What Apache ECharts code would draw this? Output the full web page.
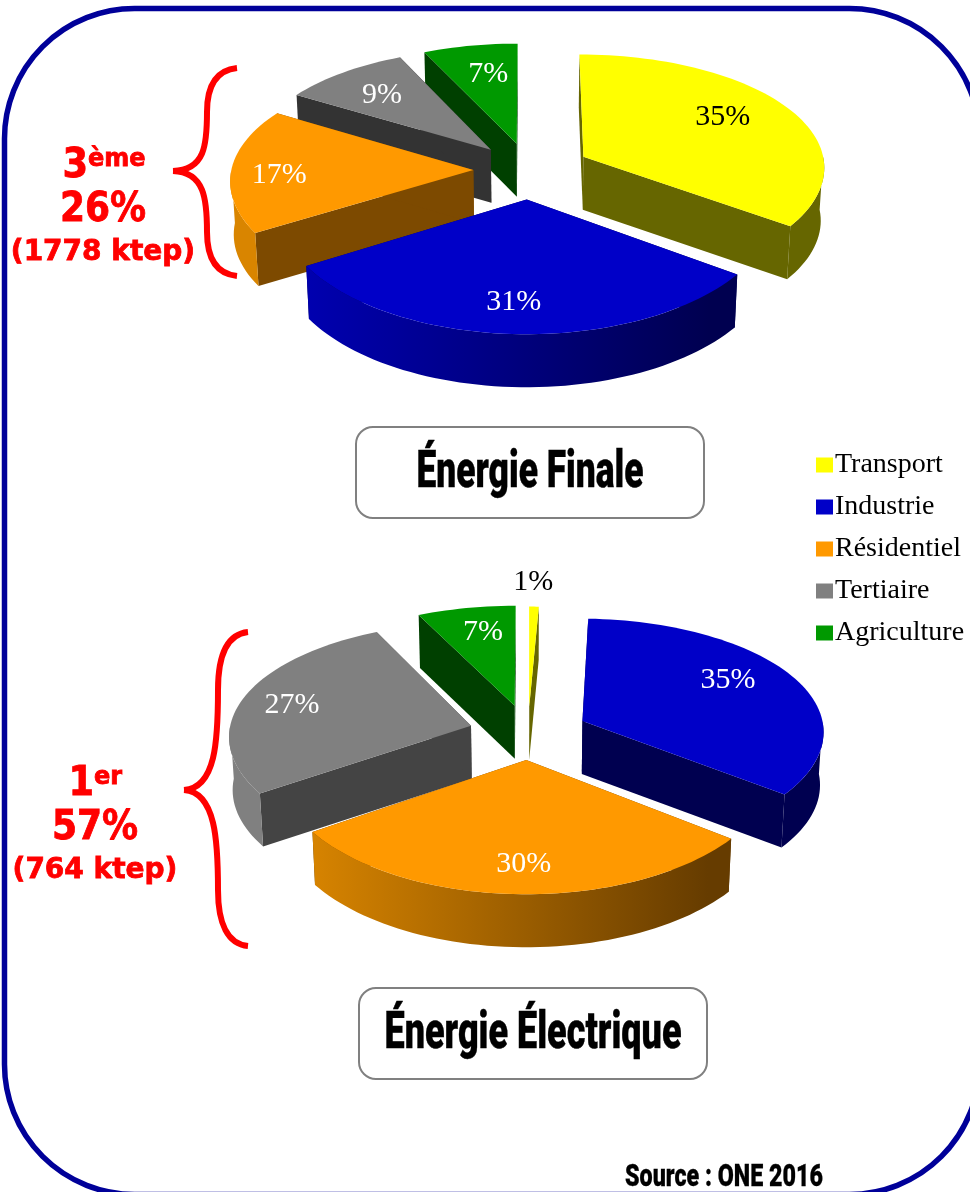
<!DOCTYPE html>
<html>
<head>
<meta charset="utf-8">
<title>Energie finale et electrique</title>
<style>
  html, body { margin: 0; padding: 0; background: #fff; }
  #chart { width: 970px; height: 1192px; }
</style>
<script src="https://cdn.jsdelivr.net/npm/echarts@6/dist/echarts.min.js"></script>
</head>
<body>
<div id="chart"></div>
<script>
// =====================================================================================================================
// Donnees (parts estimees sur les angles, arrondies a l'affichage)
const categories = ['Transport', 'Industrie', 'Résidentiel', 'Tertiaire', 'Agriculture'];
const valuesFinale = [34.9, 31.4, 17.4, 9.4, 6.9];
const valuesElectrique = [0.7, 34.8, 30, 27.3, 7.2];
const pieValues = [valuesFinale, valuesElectrique];

// =====================================================================================================================
// Styles et geometrie
const colors = ['#ffff00', '#0000c8', '#ff9900', '#808080', '#009900'];
const wallColors = [
  ['#666600', '#000050', '#7d4a00', '#333333', '#004000'],
  ['#666600', '#000050', '#663c00', '#444444', '#004000']
];
const wallLeftColors = ['#c8c800', '#0000b0', '#d98500', '#808080', '#008000'];
const labelColors = ['#000', '#fff', '#fff', '#fff', '#fff'];
const labelRadius = [[0.68, 0.78, 0.79, 0.69, 0.66], [1.28, 0.69, 0.78, 0.75, 0.7]];
const labelNudge = [
  [[-1, -6], [-5, 0], [-3, 5], [-5, 0], [3, -3]],
  [[-2, 0], [0, -9], [4, 2], [-8, 1], [3, -3]]
];
const explode = [[0.255, 0.25, 0.23, 0.24, 0.24], [0.235, 0.25, 0.23, 0.245, 0.25]];
const pies = [{cx: 529, cy: 170}, {cx: 528, cy: 733}];
const R = 242, K = 115, PX = 0.08, PY = 0.1, THICK = 53;

function project(pie, u, v) {
  return [pie.cx + R * u / (1 - PX * v), pie.cy + K * v / (1 - PY * v)];
}

function drop(pie, pt) {
  return [pie.cx + (pt[0] - pie.cx) * 0.988, pt[1] + THICK];
}

function renderSlice(params, api) {
  let pieIdx = api.value(0);
  let cat = params.seriesIndex;
  let vals = pieValues[pieIdx];
  let total = vals.reduce(function (a, b) { return a + b; }, 0);
  let before = vals.slice(0, cat).reduce(function (a, b) { return a + b; }, 0);
  let a0 = before / total * Math.PI * 2;
  let a1 = (before + api.value(1)) / total * Math.PI * 2;
  let mid = (a0 + a1) / 2;
  let pie = pies[pieIdx];
  let e = explode[pieIdx][cat];
  let ou = Math.sin(mid) * e, ov = -Math.cos(mid) * e;
  let apex = project(pie, ou, ov);

  function arcPoints(from, to) {
    let pts = [];
    let steps = Math.max(4, Math.round((to - from) * 30));
    for (let i = 0; i <= steps; i++) {
      let a = from + (to - from) * i / steps;
      pts.push(project(pie, ou + Math.sin(a), ov - Math.cos(a)));
    }
    return pts;
  }

  let arc = arcPoints(a0, a1);
  let apexLow = drop(pie, apex);
  let first = arc[0], last = arc[arc.length - 1];

  // ordre de dessin : de l'arriere vers l'avant
  let base = 200 + Math.round(-Math.cos(mid) * 100) * 10;
  let wallColor = wallColors[pieIdx][cat];
  let children = [
    {
      type: 'polygon', z2: base,
      shape: {points: [apex, first, drop(pie, first), apexLow]},
      style: {fill: wallColor}
    },
    {
      type: 'polygon', z2: base + 1,
      shape: {points: [apex, last, drop(pie, last), apexLow]},
      style: {fill: wallColor}
    }
  ];

  // paroi exterieure : seulement la moitie avant de la tarte
  let wallFrom = Math.max(a0, Math.PI / 2), wallTo = Math.min(a1, Math.PI * 1.5);
  if (wallTo > wallFrom) {
    let wallArc = arcPoints(wallFrom, wallTo);
    let wallLow = wallArc.map(function (p) { return drop(pie, p); }).reverse();
    children.push({
      type: 'polygon', z2: base + 2,
      shape: {points: wallArc.concat(wallLow)},
      style: {
        fill: new echarts.graphic.LinearGradient(pie.cx - 225, 0, pie.cx + 180, 0, [
          {offset: 0, color: wallLeftColors[cat]},
          {offset: 1, color: wallColor}
        ], true)
      }
    });
  }

  let lr = labelRadius[pieIdx][cat];
  let labelPos = project(pie, ou + Math.sin(mid) * lr, ov - Math.cos(mid) * lr);
  let nudge = labelNudge[pieIdx][cat];
  children.push({
    type: 'polygon', z2: base + 3,
    shape: {points: [apex].concat(arc)},
    style: {fill: colors[cat]}
  });
  children.push({
    type: 'text', z2: 2000,
    style: {
      text: Math.round(api.value(1)) + '%',
      x: labelPos[0] + nudge[0], y: labelPos[1] + nudge[1],
      align: 'center', verticalAlign: 'middle',
      fill: labelColors[cat],
      font: '30px "Liberation Serif"'
    }
  });
  return {type: 'group', children: children};
}

// =====================================================================================================================
// Habillage
const titleFont = '900 52px Roboto';
const sourceFont = '900 32px Roboto';

function fitScale(text, font, width) {
  let ctx = document.createElement('canvas').getContext('2d');
  ctx.font = font;
  return width / ctx.measureText(text).width;
}

function condensedText(text, font, x, y, width, border) {
  return {
    type: 'text', z: 2,
    x: x, y: y, scaleX: fitScale(text, font, width),
    style: {
      text: text, align: 'center', verticalAlign: 'middle',
      fill: '#000', stroke: '#000', lineWidth: border,
      font: font
    }
  };
}

function titleBox(x, y, text, width) {
  return [
    {
      type: 'rect', z: 1,
      shape: {x: x, y: y, width: 348, height: 91, r: 17},
      style: {fill: '#fff', stroke: '#808080', lineWidth: 2}
    },
    condensedText(text, titleFont, x + 174, y + 47, width, 0.4)
  ];
}

function brace(pts) {
  let parts = [];
  for (let i = 0; i + 3 < pts.length; i += 3) {
    parts.push({
      type: 'bezierCurve', z: 2,
      shape: {
        x1: pts[i][0], y1: pts[i][1],
        cpx1: pts[i + 1][0], cpy1: pts[i + 1][1],
        cpx2: pts[i + 2][0], cpy2: pts[i + 2][1],
        x2: pts[i + 3][0], y2: pts[i + 3][1]
      },
      style: {fill: 'none', stroke: '#f00', lineWidth: 6}
    });
  }
  return parts;
}

function redText(text, x, y, size, align, sx) {
  return {
    type: 'text', z: 2,
    x: x, y: y, scaleX: sx,
    style: {
      text: text, align: align, verticalAlign: 'middle',
      fill: '#f00', stroke: '#f00', lineWidth: 0.8,
      font: 'bold ' + size + 'px "DejaVu Sans"'
    }
  };
}

function redNote(x, split, y, rank, sup, pct, ktep) {
  return [
    redText(rank, split, y, 40, 'right', 0.92),
    redText(sup, split, y - 7, 24, 'left', 1),
    redText(pct, x, y + 44, 40, 'center', 0.9),
    redText(ktep, x, y + 86, 28, 'center', 1)
  ];
}

let graphics = [
  {
    type: 'rect', z: 0,
    shape: {x: 4.5, y: 8.5, width: 975, height: 1186, r: 130},
    style: {fill: 'none', stroke: '#000099', lineWidth: 5.5}
  },
  condensedText('Source : ONE 2016', sourceFont, 724, 1178, 198, 0.3)
].concat(
  brace([[237, 68], [218, 70], [207, 84], [207, 112], [207, 145], [205, 170], [173, 171],
         [205, 172], [207, 200], [207, 232], [207, 260], [218, 274], [237, 276]]),
  brace([[248, 632], [228, 634], [218, 654], [218, 690], [218, 740], [216, 788], [184, 790],
         [216, 792], [218, 842], [218, 890], [218, 924], [228, 944], [248, 946]]),
  titleBox(356, 427, 'Énergie Finale', 227),
  titleBox(359, 988, 'Énergie Électrique', 297),
  redNote(103, 88, 167, '3', 'ème', '26%', '(1778 ktep)'),
  redNote(95, 94, 785, '1', 'er', '57%', '(764 ktep)')
);

// =====================================================================================================================
let chart = echarts.init(document.getElementById('chart'), null, {renderer: 'canvas'});
let option = {
  animation: false,
  backgroundColor: '#fff',
  graphic: {elements: graphics},
  legend: {
    data: categories,
    orient: 'vertical',
    left: 816,
    top: 449,
    itemWidth: 17,
    itemHeight: 15,
    itemGap: 10,
    icon: 'rect',
    selectedMode: false,
    padding: 0,
    textStyle: {
      color: '#000',
      fontFamily: 'Liberation Serif',
      fontSize: 28,
      lineHeight: 32,
      padding: [0, 0, 0, -3]
    }
  },
  series: categories.map(function (name, i) {
    return {
      name: name,
      type: 'custom',
      coordinateSystem: 'none',
      silent: true,
      itemStyle: {color: colors[i]},
      renderItem: renderSlice,
      data: pieValues.map(function (vals, p) { return [p, vals[i]]; })
    };
  })
};
chart.setOption(option);
</script>
</body>
</html>
